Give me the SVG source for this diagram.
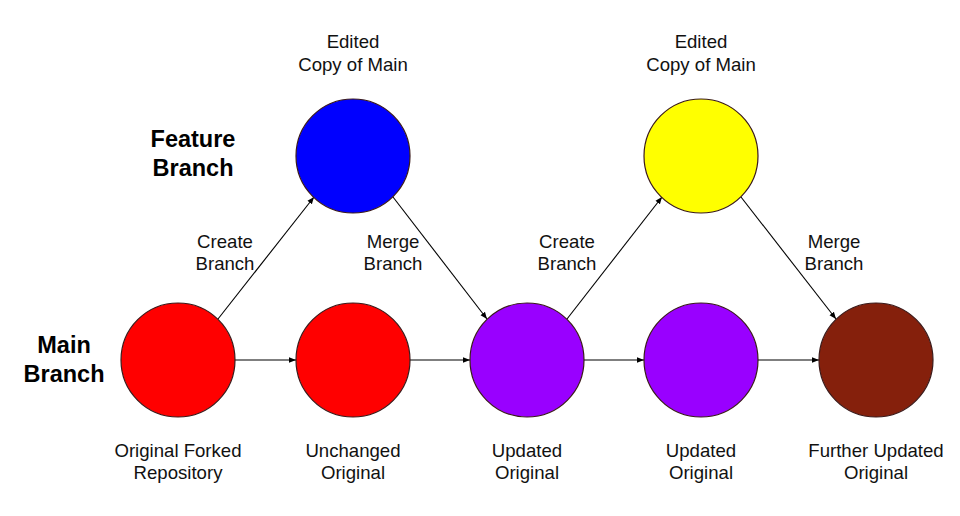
<svg xmlns="http://www.w3.org/2000/svg" width="960" height="516" viewBox="0 0 960 516">
  <defs>
    <marker id="arrow" viewBox="0 0 10 10" refX="10" refY="5" markerWidth="7" markerHeight="7" orient="auto" markerUnits="userSpaceOnUse">
      <path d="M0,1 L10,5 L0,9 z" fill="#000"/>
    </marker>
    <style>
      .node { stroke: #3a1a1a; stroke-width: 1.2; }
      .conn { stroke: #000; stroke-width: 1.1; fill: none; marker-end: url(#arrow); }
      .lbl { font-family: "Liberation Sans", Arial, sans-serif; font-size: 18.6px; fill: #111; text-anchor: middle; }
      .head { font-family: "Liberation Sans", Arial, sans-serif; font-size: 23.5px; font-weight: bold; fill: #000; text-anchor: middle; }
    </style>
  </defs>
  <rect width="960" height="516" fill="#fff"/>

  <!-- connectors -->
  <g id="connectors">
    <line class="conn" x1="235" y1="360" x2="296" y2="360"/>
    <line class="conn" x1="410" y1="360" x2="470" y2="360"/>
    <line class="conn" x1="584" y1="360" x2="644" y2="360"/>
    <line class="conn" x1="758" y1="360" x2="819" y2="360"/>
    <line class="conn" x1="218" y1="319" x2="314" y2="197"/>
    <line class="conn" x1="393" y1="197" x2="487" y2="319"/>
    <line class="conn" x1="567" y1="319" x2="662" y2="197"/>
    <line class="conn" x1="741" y1="197" x2="836" y2="319"/>
  </g>

  <!-- side headings -->
  <g id="heading-feature">
    <text class="head" x="193" y="147">Feature</text>
    <text class="head" x="193" y="176">Branch</text>
  </g>
  <g id="heading-main">
    <text class="head" x="64" y="353">Main</text>
    <text class="head" x="64" y="382">Branch</text>
  </g>

  <!-- connector labels -->
  <g id="label-create-1">
    <text class="lbl" x="225" y="248">Create</text>
    <text class="lbl" x="225" y="270">Branch</text>
  </g>
  <g id="label-merge-1">
    <text class="lbl" x="393" y="248">Merge</text>
    <text class="lbl" x="393" y="270">Branch</text>
  </g>
  <g id="label-create-2">
    <text class="lbl" x="567" y="248">Create</text>
    <text class="lbl" x="567" y="270">Branch</text>
  </g>
  <g id="label-merge-2">
    <text class="lbl" x="834" y="248">Merge</text>
    <text class="lbl" x="834" y="270">Branch</text>
  </g>

  <!-- feature branch nodes -->
  <g id="feature-1">
    <circle class="node" cx="353" cy="156" r="57" fill="#0000ff"/>
    <text class="lbl" x="353" y="48">Edited</text>
    <text class="lbl" x="353" y="71">Copy of Main</text>
  </g>
  <g id="feature-2">
    <circle class="node" cx="701" cy="156" r="57" fill="#ffff00"/>
    <text class="lbl" x="701" y="48">Edited</text>
    <text class="lbl" x="701" y="71">Copy of Main</text>
  </g>

  <!-- main branch nodes -->
  <g id="main-1">
    <circle class="node" cx="178" cy="360" r="57" fill="#ff0000"/>
    <text class="lbl" x="178" y="457">Original Forked</text>
    <text class="lbl" x="178" y="479">Repository</text>
  </g>
  <g id="main-2">
    <circle class="node" cx="353" cy="360" r="57" fill="#ff0000"/>
    <text class="lbl" x="353" y="457">Unchanged</text>
    <text class="lbl" x="353" y="479">Original</text>
  </g>
  <g id="main-3">
    <circle class="node" cx="527" cy="360" r="57" fill="#9900ff"/>
    <text class="lbl" x="527" y="457">Updated</text>
    <text class="lbl" x="527" y="479">Original</text>
  </g>
  <g id="main-4">
    <circle class="node" cx="701" cy="360" r="57" fill="#9900ff"/>
    <text class="lbl" x="701" y="457">Updated</text>
    <text class="lbl" x="701" y="479">Original</text>
  </g>
  <g id="main-5">
    <circle class="node" cx="876" cy="360" r="57" fill="#85200c"/>
    <text class="lbl" x="876" y="457">Further Updated</text>
    <text class="lbl" x="876" y="479">Original</text>
  </g>
</svg>
